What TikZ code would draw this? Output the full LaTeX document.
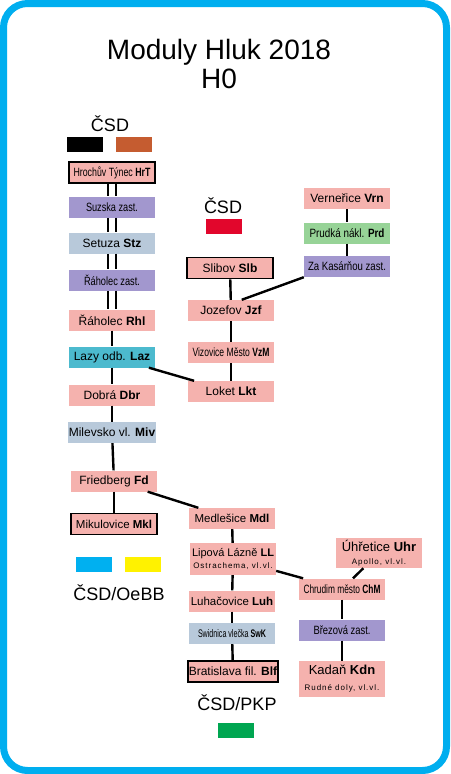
\documentclass[tikz,border=0pt]{standalone}
\usepackage{graphicx}
\usepackage{fontspec}
\setmainfont{Liberation Sans}
\newfontfamily\spacedfont{Liberation Sans}[LetterSpace=12]
\usetikzlibrary{positioning}
\definecolor{framecyan}{RGB}{0,174,239}
\definecolor{modpink}{RGB}{245,178,174}
\definecolor{modviolet}{RGB}{162,151,206}
\definecolor{modgrey}{RGB}{184,201,218}
\definecolor{modteal}{RGB}{76,186,206}
\definecolor{modgreen}{RGB}{151,211,151}
\definecolor{legorange}{RGB}{197,92,48}
\definecolor{legred}{RGB}{226,6,44}
\definecolor{legcyan}{RGB}{0,176,240}
\definecolor{legyellow}{RGB}{255,242,0}
\definecolor{leggreen}{RGB}{0,166,81}
% texte comprimé à une largeur donnée
\newcommand{\squeeze}[2]{\resizebox{#1}{\height}{#2}}

\begin{document}
\begin{tikzpicture}[
        x=1pt, y=-1pt,
        % Style pour un module
        module/.style={
            fill=modpink,
            minimum width=86pt,
            minimum height=21pt,
            inner sep=1pt,
            align=center,
            font=\fontsize{12}{13}\selectfont
        },
        % Module en fin de voie (cadre noir)
        endModule/.style={
            module,
            draw=black,
            line width=1.8pt
        },
        smallText/.style={font=\fontsize{11.5}{13}\selectfont},
        % Étiquettes des administrations
        owner/.style={font=\fontsize{18}{20}\selectfont},
        legendBox/.style={minimum width=36pt, minimum height=15pt, inner sep=0pt},
        % Liaisons
        link/.style={line width=2.4pt},
        doubleLink/.style={double, double distance=5.5pt, line width=2.4pt}
    ]
    \useasboundingbox (0,0) rectangle (450,774);

    % Cadre
    \draw[framecyan, line width=7pt, rounded corners=24pt, fill=white]
        (3.5,3.5) rectangle (446.5,770.5);

    % Titre
    \node[font=\fontsize{28}{29}\selectfont, align=center] (title) at (219,64)
        {Moduly Hluk 2018\\H0};

    % Légendes
    \node[owner] (csdA) at (110,124) {ČSD};
    \node[legendBox, fill=black] (csdBlack) at (85,144.5) {};
    \node[legendBox, fill=legorange] (csdOrange) at (133.5,144.5) {};
    \node[owner] (csdB) at (223,206) {ČSD};
    \node[legendBox, fill=legred] (csdRed) at (223.5,226.5) {};
    \node[owner] (oebb) at (119,593) {ČSD/OeBB};
    \node[legendBox, fill=legcyan] (oebbCyan) at (93.5,564.5) {};
    \node[legendBox, fill=legyellow] (oebbYellow) at (143,564.5) {};
    \node[owner] (pkp) at (237,703) {ČSD/PKP};
    \node[legendBox, fill=leggreen] (pkpGreen) at (235.5,730.5) {};

    % Colonne gauche
    \node[endModule] (HrT) at (112,172.5) {\squeeze{77pt}{Hrochův Týnec \textbf{HrT}}};
    \node[module, fill=modviolet] (Suz) at (112,207) {\squeeze{52pt}{Suzska zast.}};
    \node[module, fill=modgrey] (Stz) at (112,243) {Setuza \textbf{Stz}};
    \node[module, fill=modviolet] (Rhz) at (112,280) {\squeeze{56pt}{Řáholec zast.}};
    \node[module] (Rhl) at (112,320) {Řáholec \textbf{Rhl}};
    \node[module, fill=modteal] (Laz) at (112,357) {Lazy odb. \textbf{Laz}};
    \node[module] (Dbr) at (112,395) {Dobrá \textbf{Dbr}};
    \node[module, fill=modgrey] (Miv) at (112,432.5) {Milevsko vl. \textbf{Miv}};
    \node[module] (Fd) at (114,481) {Friedberg \textbf{Fd}};
    \node[endModule, smallText] (Mkl) at (114,524) {Mikulovice \textbf{Mkl}};

    % Colonne du milieu
    \node[endModule] (Slb) at (230,268) {Slibov \textbf{Slb}};
    \node[module] (Jzf) at (231,310.5) {Jozefov \textbf{Jzf}};
    \node[module] (VzM) at (231,352.5) {\squeeze{77pt}{Vizovice Město \textbf{VzM}}};
    \node[module] (Lkt) at (231,391.5) {Loket \textbf{Lkt}};
    \node[module, smallText] (Mdl) at (232,518.5) {Medlešice \textbf{Mdl}};
    \node[module, minimum height=32pt, font=\fontsize{11}{12}\selectfont] (LL) at (233,559)
        {Lipová Lázně \textbf{LL}\\[0pt]{\spacedfont\fontsize{8}{9}\selectfont Ostrachema, vl.vl.}};
    \node[module, smallText] (Luh) at (232,601) {Luhačovice \textbf{Luh}};
    \node[module, fill=modgrey, font=\fontsize{11}{12}\selectfont] (SwK) at (232,633.5)
        {\squeeze{68pt}{Swidnica vlečka \textbf{SwK}}};
    \node[endModule] (Blf) at (233,671.5) {Bratislava fil. \textbf{Blf}};

    % Colonne droite
    \node[module] (Vrn) at (347,198.5) {Verneřice \textbf{Vrn}};
    \node[module, fill=modgreen] (Prd) at (347,233) {\squeeze{75pt}{Prudká nákl. \textbf{Prd}}};
    \node[module, fill=modviolet] (ZK) at (347,266.5) {\squeeze{78pt}{Za Kasárňou zast.}};
    \node[module, minimum height=30pt, font=\fontsize{13}{14}\selectfont] (Uhr) at (379,553)
        {Úhřetice \textbf{Uhr}\\[-1pt]{\spacedfont\fontsize{8}{9}\selectfont Apollo, vl.vl.}};
    \node[module] (ChM) at (342,589) {\squeeze{77pt}{Chrudim město \textbf{ChM}}};
    \node[module, fill=modviolet] (Brz) at (342,630) {\squeeze{57pt}{Březová zast.}};
    \node[module, minimum height=36pt, font=\fontsize{13}{14}\selectfont] (Kdn) at (342,679)
        {Kadaň \textbf{Kdn}\\[2pt]{\spacedfont\fontsize{8}{9}\selectfont Rudné doly, vl.vl.}};

    % Liaisons
    \draw[doubleLink] (HrT) -- (Suz);
    \draw[doubleLink] (Suz) -- (Stz);
    \draw[doubleLink] (Stz) -- (Rhz);
    \draw[doubleLink] (Rhz) -- (Rhl);
    \draw[link] (Rhl) -- (Laz);
    \draw[link] (Laz) -- (Dbr);
    \draw[link] (Dbr) -- (Miv);
    \draw[link] (Miv) -- (Fd);
    \draw[link] (Fd) -- (Mkl);
    \draw[link] (Laz) -- (Lkt);
    \draw[link] (Slb) -- (Jzf);
    \draw[link] (Jzf) -- (VzM);
    \draw[link] (VzM) -- (Lkt);
    \draw[link] (Vrn) -- (Prd);
    \draw[link] (Prd) -- (ZK);
    \draw[link] (ZK.south west) -- (Jzf.45);
    \draw[link] (Fd) -- (Mdl);
    \draw[link] (Mdl) -- (LL);
    \draw[link] (LL) -- (Luh);
    \draw[link] (Luh) -- (SwK);
    \draw[link] (SwK) -- (Blf);
    \draw[link] (LL) -- (ChM);
    \draw[link] (Uhr) -- (ChM);
    \draw[link] (ChM) -- (Brz);
    \draw[link] (Brz) -- (Kdn);

\end{tikzpicture}
\end{document}
